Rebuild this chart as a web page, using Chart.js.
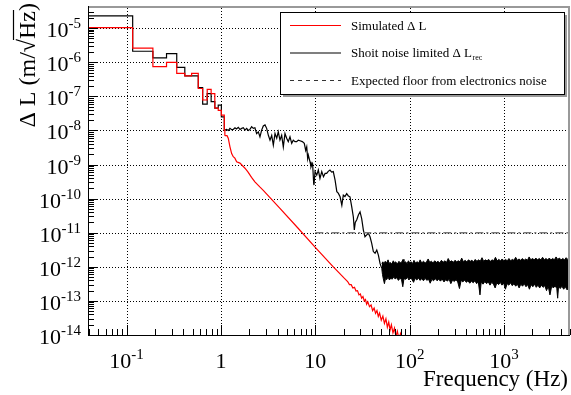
<!DOCTYPE html>
<html>
<head>
<meta charset="utf-8">
<script src="https://cdn.jsdelivr.net/npm/chart.js@4.4.0/dist/chart.umd.min.js"></script>
<style>
  html, body { margin: 0; padding: 0; background: #fff; }
  canvas { display: block; }
</style>
</head>
<body>
<canvas id="grafico" width="571" height="395"></canvas>
<script>
// Low-frequency histogram bins (left edges in Hz, last entry closes the last bin)
const binFreq = [0.039, 0.116, 0.19, 0.265, 0.34, 0.414, 0.489, 0.575, 0.64, 0.715, 0.787, 0.861, 0.936, 1.01, 1.085, 1.10];
const recBins = [2.3e-5, 2.1e-6, 1.35e-6, 1.8e-6, 7.1e-7, 4.0e-7, 4.0e-7, 1.8e-7, 5.9e-8, 1.2e-7, 7.0e-8, 4.5e-8, 5.5e-8, 2.5e-8, 1.02e-8, 1.02e-8];
const simBins = [1.03e-5, 2.6e-6, 7.4e-7, 9.9e-7, 4.7e-7, 4.0e-7, 4.7e-7, 1.7e-7, 7.8e-8, 1.6e-7, 1.2e-7, 4.5e-8, 3.9e-8, 2.8e-8, 1.02e-8, 7.0e-9];

// Simulated ΔL above 1 Hz
const simFreq = [1.10, 1.16, 1.195, 1.246, 1.298, 1.35, 1.405, 1.467, 1.59, 1.797, 1.93, 2.11, 2.29, 2.58, 2.81, 4.22, 6.5, 10.1, 15.5, 20,
  22, 23, 24, 25, 26, 27, 28, 29, 30, 31, 32, 33, 34, 35, 36, 37.5, 39, 40.5, 42, 43.5, 45, 46.5, 48, 50, 52, 54, 56, 58, 60, 62, 64, 66.5, 69, 71.5, 74, 77, 80, 84, 88, 92];
const simVals = [7.0e-9, 7.0e-9, 5.9e-9, 3.3e-9, 2.1e-9, 1.7e-9, 1.54e-9, 1.2e-9, 1.1e-9, 7.8e-10, 6.1e-10, 4.2e-10, 3.1e-10, 2.2e-10, 1.75e-10, 5.2e-11, 1.4e-11, 3.6e-12, 1.0e-12, 4.8e-13,
  3.7e-13, 3.0e-13, 3.0e-13, 2.4e-13, 2.5e-13, 1.95e-13, 2.0e-13, 1.5e-13, 1.6e-13, 1.2e-13, 1.35e-13, 1.0e-13, 1.1e-13, 8.0e-14, 9.4e-14, 6.8e-14, 7.6e-14, 5.2e-14, 6.2e-14, 4.3e-14, 5.2e-14, 3.5e-14, 4.4e-14, 2.7e-14, 3.6e-14, 2.2e-14, 3.0e-14, 1.7e-14, 2.4e-14, 1.4e-14, 2.0e-14, 1.15e-14, 1.6e-14, 9e-15, 1.3e-14, 7.5e-15, 1.1e-14, 6.5e-15, 9e-15, 5e-15];

// Shot-noise limited ΔL_rec above 1 Hz
const recFreq = [1.10, 1.148, 1.20, 1.246, 1.30, 1.35, 1.408, 1.46, 1.526, 1.59, 1.66, 1.725, 1.797, 1.872, 1.95, 2.03, 2.115, 2.2, 2.29, 2.39,
  2.49, 2.59, 2.70, 2.81, 2.93, 3.05, 3.18, 3.31, 3.45, 3.59, 3.74, 3.90, 4.05, 4.22, 4.40, 4.58, 4.77, 4.97, 5.17, 5.39,
  5.62, 5.84, 6.09, 6.35, 6.6, 6.88, 7.28, 7.64, 7.91, 8.11, 8.30, 8.43, 8.79, 9.0, 9.29, 9.38, 9.61, 9.68, 9.93, 10.35,
  10.76, 11.2, 11.7, 12.2, 12.7, 13.2, 13.7, 14.3, 14.9, 15.5, 16.2, 16.9, 17.5, 18.3, 19.1, 19.8, 20.6, 21.5, 22.4, 23.3,
  24.3, 25.3, 25.9, 26.5, 27.5, 28.6, 29.8, 31.0, 32.3, 33.6, 35.1, 36.5, 38.0, 39.6, 41.2, 43.0, 44.8, 46.6, 48.5, 50.6];
const recVals = [1.02e-8, 1.07e-8, 1.0e-8, 1.15e-8, 1.05e-8, 1.07e-8, 1.2e-8, 1.1e-8, 1.23e-8, 1.07e-8, 1.15e-8, 1.2e-8, 1.02e-8, 1.15e-8, 1.0e-8, 1.07e-8, 1.29e-8, 1.15e-8, 1.2e-8, 8.1e-9,
  9.1e-9, 6.5e-9, 1.02e-8, 1.35e-8, 1.45e-8, 1.15e-8, 7.2e-9, 5.2e-9, 7.2e-9, 3.7e-9, 8.1e-9, 5.9e-9, 9.1e-9, 5.2e-9, 7.2e-9, 3.3e-9, 8.1e-9, 5.9e-9, 4.7e-9, 6.5e-9,
  4.2e-9, 5.2e-9, 4.7e-9, 4.7e-9, 5.2e-9, 5.0e-9, 4.7e-9, 4.2e-9, 2.6e-9, 3.3e-9, 1.5e-9, 1.9e-9, 1.2e-9, 8.5e-10, 1.07e-9, 9.6e-10, 2.8e-10, 2.5e-10, 6.2e-10, 4.9e-10,
  6.9e-10, 3.9e-10, 6.2e-10, 4.4e-10, 5.5e-10, 5.5e-10, 6.3e-10, 6.9e-10, 6.0e-10, 6.2e-10, 3.5e-10, 1.6e-10, 1.45e-10, 1.13e-10, 6.4e-11, 1.26e-10, 1.15e-10, 1.4e-10, 1.2e-10, 1.13e-10,
  5.8e-11, 2.9e-11, 1.2e-11, 2.0e-11, 2.4e-11, 3.3e-11, 4.1e-11, 2.6e-11, 1.2e-11, 7.6e-12, 8.6e-12, 9.6e-12, 7.6e-12, 4.9e-12, 2.8e-12, 2.5e-12, 3.1e-12, 2.2e-12, 1.26e-12, 9e-13];

// Noise floor band of ΔL_rec: upper and lower edges
const floorHiFreq = [50.6, 52, 53.5, 55, 57, 59, 60.5, 62, 64.5, 67, 69, 71, 74, 77, 79, 82, 85, 87, 90, 94, 97, 100, 104, 108, 111, 115, 120, 125, 129, 134,
  140, 146, 151, 157, 163, 170, 177, 184, 192, 200, 208, 217, 226, 236, 246, 256, 267, 278, 290, 302, 315, 328, 342, 356, 371, 387, 403, 420, 438, 456,
  475, 495, 516, 538, 560, 584, 608, 634, 660, 688, 717, 747, 778, 811, 845, 880, 917, 956, 996, 1038, 1081, 1127, 1174, 1223, 1274, 1328, 1383, 1441, 1502, 1565,
  1630, 1699, 1770, 1844, 1921, 2002, 2086, 2173, 2264, 2359, 2458, 2561, 2668, 2780, 2897, 3018, 3145, 3277, 3414, 3557, 3706, 3861, 4023, 4192, 4368, 4551, 4741, 4940, 5000];
const floorHi = [1.25e-12, 1.4e-12, 1.2e-12, 1.45e-12, 1.3e-12, 1.6e-12, 1.25e-12, 1.35e-12, 1.2e-12, 1.5e-12, 1.3e-12, 1.4e-12, 1.2e-12, 1.45e-12, 1.3e-12, 1.35e-12, 1.65e-12, 1.3e-12, 1.4e-12, 1.25e-12, 1.5e-12, 1.3e-12, 1.4e-12, 1.25e-12, 1.55e-12, 1.3e-12, 1.4e-12, 1.3e-12, 1.6e-12, 1.3e-12,
  1.45e-12, 1.3e-12, 1.4e-12, 1.7e-12, 1.35e-12, 1.45e-12, 1.3e-12, 1.5e-12, 1.35e-12, 1.45e-12, 1.3e-12, 1.55e-12, 1.35e-12, 1.5e-12, 1.35e-12, 1.75e-12, 1.4e-12, 1.5e-12, 1.35e-12, 1.55e-12, 1.4e-12, 1.5e-12, 1.4e-12, 1.8e-12, 1.4e-12, 1.55e-12, 1.4e-12, 1.6e-12, 1.45e-12, 1.55e-12,
  1.4e-12, 1.65e-12, 1.45e-12, 1.6e-12, 1.45e-12, 1.85e-12, 1.45e-12, 1.6e-12, 1.5e-12, 1.65e-12, 1.45e-12, 1.6e-12, 1.5e-12, 1.9e-12, 1.5e-12, 1.65e-12, 1.5e-12, 1.7e-12, 1.5e-12, 1.65e-12, 1.5e-12, 1.75e-12, 1.5e-12, 1.65e-12, 1.55e-12, 1.9e-12, 1.55e-12, 1.7e-12, 1.55e-12, 1.75e-12,
  1.55e-12, 1.7e-12, 1.55e-12, 1.95e-12, 1.6e-12, 1.75e-12, 1.6e-12, 1.8e-12, 1.6e-12, 1.75e-12, 1.6e-12, 1.9e-12, 1.6e-12, 1.75e-12, 1.6e-12, 1.8e-12, 1.6e-12, 1.75e-12, 1.6e-12, 1.95e-12, 1.65e-12, 1.8e-12, 1.6e-12, 1.75e-12, 1.6e-12, 1.85e-12, 1.65e-12, 1.8e-12, 1.7e-12];
const floorLoFreq = [50.6, 51.5, 52.5, 54, 55.5, 57, 59, 61, 63, 65, 68, 70, 73, 76, 79, 82, 84.5, 87, 91, 95, 98, 102, 106, 110, 114, 119, 124, 129, 134, 140,
  146, 152, 158, 165, 172, 179, 187, 195, 203, 212, 221, 231, 241, 251, 262, 273, 285, 297, 310, 323, 337, 351, 366, 382, 398, 415, 433, 452, 471, 491,
  512, 534, 556, 572, 600, 626, 653, 681, 710, 740, 772, 805, 839, 875, 912, 951, 992, 1034, 1078, 1124, 1172, 1222, 1274, 1329, 1385, 1445, 1506, 1571, 1638, 1708,
  1781, 1857, 1936, 2019, 2105, 2195, 2289, 2386, 2488, 2594, 2705, 2820, 2941, 3066, 3197, 3333, 3476, 3624, 3700, 3780, 3940, 4110, 4285, 4467, 4658, 4857, 5000];
const floorLo = [9e-13, 6e-13, 4.5e-13, 3.2e-13, 4.6e-13, 4.2e-13, 5e-13, 4.1e-13, 4.7e-13, 4.3e-13, 5.1e-13, 4.4e-13, 4.8e-13, 4.0e-13, 4.6e-13, 4.2e-13, 2.6e-13, 4.5e-13, 4.3e-13, 4.9e-13, 4.1e-13, 4.7e-13, 4.2e-13, 3.5e-13, 4.6e-13, 4.1e-13, 4.7e-13, 4.0e-13, 4.5e-13, 3.9e-13,
  4.6e-13, 4.0e-13, 4.4e-13, 3.3e-13, 4.3e-13, 3.9e-13, 4.5e-13, 3.9e-13, 4.3e-13, 3.8e-13, 4.4e-13, 3.6e-13, 4.2e-13, 3.8e-13, 4.3e-13, 3.2e-13, 4.1e-13, 3.7e-13, 4.2e-13, 3.6e-13, 2.3e-13, 4.0e-13, 3.6e-13, 4.1e-13, 3.5e-13, 3.9e-13, 3.3e-13, 3.8e-13, 3.4e-13, 3.9e-13,
  3.2e-13, 3.6e-13, 1.5e-13, 3.5e-13, 3.1e-13, 3.7e-13, 3.2e-13, 3.6e-13, 2.9e-13, 3.5e-13, 3.1e-13, 2.4e-13, 3.4e-13, 3.0e-13, 3.5e-13, 2.9e-13, 3.3e-13, 2.2e-13, 3.2e-13, 2.9e-13, 3.4e-13, 2.8e-13, 3.2e-13, 2.7e-13, 3.1e-13, 2.4e-13, 3.1e-13, 2.7e-13, 3.2e-13, 2.6e-13,
  3.0e-13, 2.2e-13, 3.0e-13, 2.6e-13, 3.1e-13, 2.5e-13, 2.9e-13, 2.4e-13, 2.9e-13, 2.5e-13, 2.8e-13, 2.0e-13, 2.7e-13, 1.5e-13, 2.7e-13, 2.4e-13, 2.8e-13, 2.3e-13, 1.2e-13, 2.6e-13, 2.3e-13, 2.7e-13, 2.2e-13, 2.6e-13, 2.1e-13, 2.5e-13, 2.3e-13];

// Expected floor from electronics noise
const elecFreq = [10, 5000];
const elecVals = [1e-11, 1e-11];

// Axis ranges and decade labels
const xRange = [0.039, 5000];
const yRange = [1e-14, 3.9e-5];
const xTicks = [0.1, 1, 10, 100, 1000];
const xTickLabels = [['10', '-1'], ['1', ''], ['10', ''], ['10', '2'], ['10', '3']];
const yTicks = [1e-5, 1e-6, 1e-7, 1e-8, 1e-9, 1e-10, 1e-11, 1e-12, 1e-13, 1e-14];
const yTickExps = ['-5', '-6', '-7', '-8', '-9', '-10', '-11', '-12', '-13', '-14'];

const serif = '"Liberation Serif", "Times New Roman", serif';
const zip = (xs, ys) => xs.map((x, i) => ({ x, y: ys[i] }));

// "10" with a raised exponent
function drawPow(ctx, x, y, base, exp, align, size, expSize, rise) {
  ctx.font = size + 'px ' + serif;
  const wb = ctx.measureText(base).width;
  ctx.font = expSize + 'px ' + serif;
  const we = exp ? ctx.measureText(exp).width : 0;
  const x0 = align === 'right' ? x - wb - we : x - (wb + we) / 2;
  ctx.textAlign = 'left';
  ctx.textBaseline = 'alphabetic';
  ctx.font = size + 'px ' + serif;
  ctx.fillText(base, x0, y);
  if (exp) {
    ctx.font = expSize + 'px ' + serif;
    ctx.fillText(exp, x0 + wb, y - rise);
  }
}

function logSteps(min, max) {
  const out = [];
  for (let d = Math.floor(Math.log10(min)); d <= Math.ceil(Math.log10(max)); d++) {
    for (let k = 1; k <= 9; k++) {
      const v = k * Math.pow(10, d);
      if (v >= min * 0.999 && v <= max * 1.001) out.push([v, k === 1]);
    }
  }
  return out;
}

const rootFrame = {
  id: 'rootFrame',
  beforeDatasetsDraw(chart) {
    const { ctx, chartArea: a, scales: { x, y } } = chart;
    ctx.save();
    ctx.strokeStyle = '#000';
    ctx.lineWidth = 1;
    ctx.setLineDash([1, 2]);
    xTicks.forEach(v => {
      const px = Math.round(x.getPixelForValue(v)) + 0.5;
      ctx.beginPath(); ctx.moveTo(px, a.top); ctx.lineTo(px, a.bottom); ctx.stroke();
    });
    yTicks.forEach(v => {
      const py = Math.round(y.getPixelForValue(v)) + 0.5;
      if (py >= a.bottom - 1) return;
      ctx.beginPath(); ctx.moveTo(a.left, py); ctx.lineTo(a.right, py); ctx.stroke();
    });
    ctx.restore();
  },
  afterDatasetsDraw(chart) {
    const { ctx, chartArea: a, scales: { x, y } } = chart;
    ctx.save();
    // frame: grey top/right edges, black axes
    ctx.strokeStyle = '#999';
    ctx.lineWidth = 2;
    ctx.beginPath(); ctx.moveTo(a.left, a.top - 1); ctx.lineTo(a.right - 1, a.top - 1); ctx.lineTo(a.right - 1, a.bottom); ctx.stroke();
    ctx.strokeStyle = '#000';
    ctx.lineWidth = 1;
    ctx.beginPath(); ctx.moveTo(a.left + 0.5, a.top - 2); ctx.lineTo(a.left + 0.5, a.bottom + 0.5); ctx.lineTo(a.right, a.bottom + 0.5); ctx.stroke();

    // tick marks
    ctx.beginPath();
    logSteps(xRange[0], xRange[1]).forEach(([v, major]) => {
      const px = Math.round(x.getPixelForValue(v)) + 0.5;
      ctx.moveTo(px, a.bottom); ctx.lineTo(px, a.bottom - (major ? 10 : 6));
    });
    logSteps(yRange[0], yRange[1]).forEach(([v, major]) => {
      const py = Math.round(y.getPixelForValue(v)) + 0.5;
      ctx.moveTo(a.left, py); ctx.lineTo(a.left + (major ? 10 : 6), py);
    });
    ctx.stroke();

    // tick labels
    ctx.fillStyle = '#000';
    yTicks.forEach((v, i) => {
      drawPow(ctx, 81, y.getPixelForValue(v) + 9, '10', yTickExps[i], 'right', 22, 15, 9);
    });
    xTicks.forEach((v, i) => {
      drawPow(ctx, x.getPixelForValue(v), 368, xTickLabels[i][0], xTickLabels[i][1], 'center', 22, 15, 9);
    });

    // x title
    ctx.font = '23px ' + serif;
    ctx.textAlign = 'right';
    ctx.fillText('Frequency (Hz)', 568, 386);

    // y title with a square root over Hz
    ctx.save();
    ctx.translate(35, 0);
    ctx.rotate(-Math.PI / 2);
    ctx.font = '24px ' + serif;
    ctx.textAlign = 'left';
    const parts = ['\u0394 L (m/', '\u221A', 'Hz', ')'];
    const widths = parts.map(p => ctx.measureText(p).width);
    let cx = -3 - widths.reduce((s, w) => s + w, 0);
    parts.forEach((p, i) => {
      ctx.fillText(p, cx, 0);
      if (i === 2) {
        ctx.lineWidth = 1.2;
        ctx.beginPath(); ctx.moveTo(cx - 1, -21.5); ctx.lineTo(cx + widths[i] + 1, -21.5); ctx.stroke();
      }
      cx += widths[i];
    });
    ctx.restore();

    // legend
    const lx = 280, ly = 12, lw = 284, lh = 82;
    ctx.fillStyle = '#999';
    ctx.fillRect(lx + 3, ly + 3, lw, lh);
    ctx.fillStyle = '#fff';
    ctx.fillRect(lx, ly, lw, lh);
    ctx.strokeStyle = '#000';
    ctx.lineWidth = 1;
    ctx.strokeRect(lx + 0.5, ly + 0.5, lw, lh);
    const rows = [
      { ds: chart.data.datasets[0], y: 25, sub: '' },
      { ds: chart.data.datasets[2], y: 52.5, sub: 'rec' },
      { ds: chart.data.datasets[6], y: 80, sub: '' }
    ];
    rows.forEach(r => {
      ctx.strokeStyle = r.ds.legendColor || r.ds.borderColor;
      ctx.lineWidth = 1.2;
      ctx.setLineDash(r.ds.legendDash || []);
      ctx.beginPath(); ctx.moveTo(290, r.y + 0.5); ctx.lineTo(341, r.y + 0.5); ctx.stroke();
      ctx.setLineDash([]);
      ctx.fillStyle = '#000';
      ctx.font = '13px ' + serif;
      ctx.textAlign = 'left';
      ctx.fillText(r.ds.label, 351, r.y + 4.5);
      if (r.sub) {
        const w = ctx.measureText(r.ds.label).width;
        ctx.font = '8px ' + serif;
        ctx.fillText(r.sub, 351 + w + 0.5, r.y + 7.5);
      }
    });
    ctx.restore();
  }
};

const ctx = document.getElementById('grafico').getContext('2d');
const chart = new Chart(ctx, {
  type: 'line',
  data: {
    datasets: [
      { label: 'Simulated \u0394 L', data: zip(binFreq, simBins), borderColor: '#ff0000', stepped: 'before' },
      { label: 'Simulated \u0394 L', data: zip(simFreq, simVals), borderColor: '#ff0000' },
      { label: 'Shoit noise limited \u0394 L', data: zip(binFreq, recBins), borderColor: '#000', stepped: 'before' },
      { label: 'Shoit noise limited \u0394 L', data: zip(recFreq, recVals), borderColor: '#000' },
      { label: 'floor high', data: zip(floorHiFreq, floorHi), borderColor: '#000', borderWidth: 1, fill: '+1', backgroundColor: '#000' },
      { label: 'floor low', data: zip(floorLoFreq, floorLo), borderColor: '#000', borderWidth: 1 },
      { label: 'Expected floor from electronics noise', data: zip(elecFreq, elecVals), borderColor: '#7a7a7a',
        borderWidth: 1.5, borderDash: [8, 3, 2, 3], legendDash: [4, 4], legendColor: '#333', order: -1 }
    ]
  },
  options: {
    responsive: false,
    animation: false,
    parsing: true,
    layout: { padding: { left: 88, top: 8, right: 1, bottom: 60 } },
    elements: {
      point: { radius: 0 },
      line: { borderWidth: 1.2, tension: 0, fill: false }
    },
    scales: {
      x: { type: 'logarithmic', min: xRange[0], max: xRange[1], display: false },
      y: { type: 'logarithmic', min: yRange[0], max: yRange[1], display: false }
    },
    plugins: {
      legend: { display: false },
      tooltip: { enabled: false }
    }
  },
  plugins: [rootFrame]
});
</script>
</body>
</html>
